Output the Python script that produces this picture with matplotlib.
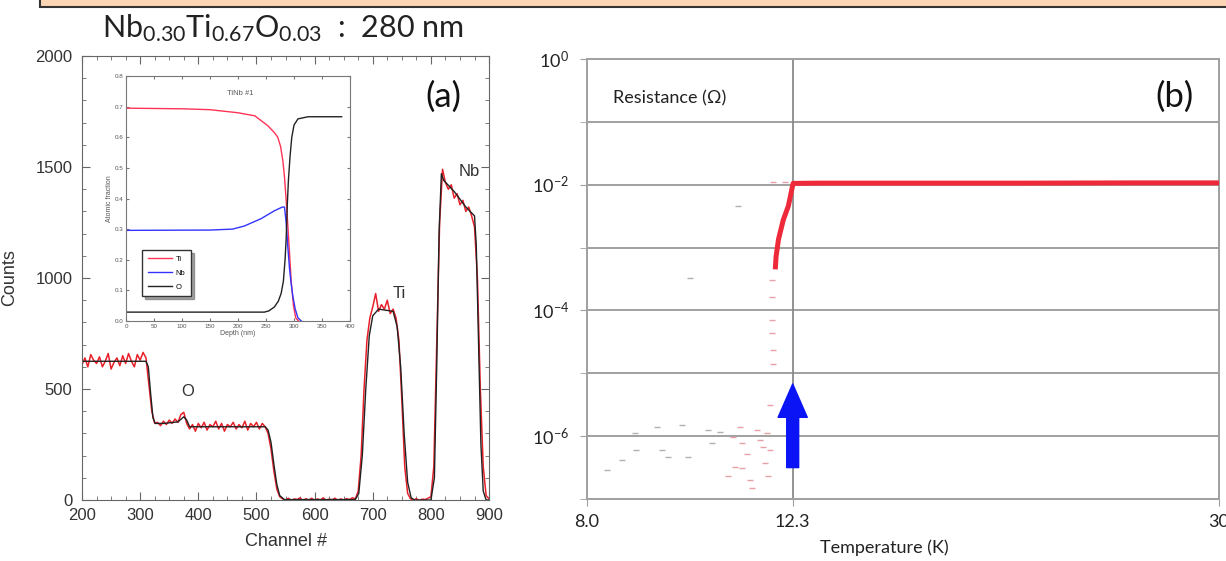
import numpy as np
import matplotlib
matplotlib.use("Agg")
import matplotlib.pyplot as plt
from matplotlib.patches import Rectangle
from matplotlib.ticker import FixedLocator, NullFormatter, NullLocator, MultipleLocator

plt.rcParams['font.family'] = ['Liberation Sans', 'DejaVu Sans']
plt.rcParams['mathtext.fontset'] = 'custom'
plt.rcParams['mathtext.rm'] = 'Lato'
plt.rcParams['mathtext.it'] = 'Lato:italic'
plt.rcParams['mathtext.bf'] = 'Lato:bold'

# ---- (a) RBS spectrum: measured counts, every 5 channels from 200 to 900
channel = np.arange(200, 905, 5)
counts = [610, 640, 600, 655, 630, 615, 645, 600, 625, 660, 590, 620, 640, 605, 650, 615,
          660, 625, 600, 655, 630, 665, 640,
          520, 400, 345,
          350, 335, 355, 340, 360, 345, 365, 350, 385, 395, 345, 320,
          340, 310, 345, 325, 350, 315, 340, 330, 355, 320, 345, 310, 340, 330, 350, 320,
          340, 325, 355, 315, 345, 330, 350, 320, 345, 330,
          300, 230, 130, 50, 15, 5,
          0, 8, -3, 5, 2, 10, -4, 6, 0, 8, -2, 5, 0, 10, -3, 4, 1, 8, -2, 5, 0, 6, 2, 10, 5,
          40, 200, 500, 720, 820, 870, 930, 850, 880, 860, 900, 840, 860, 820,
          720, 450, 150, 30, 5,
          0, 6, -2, 4, 2, 8, 15,
          150, 700, 1250, 1490, 1430, 1400, 1420, 1360, 1380, 1330, 1350, 1300, 1320, 1280, 1230,
          1000, 500, 150, 20, 5]

# simulated fit (black)
fit_ch = [200, 310, 314, 318, 322, 326, 340, 365, 375, 380, 385, 515, 520, 525, 530, 535,
          540, 548, 670, 676, 682, 688, 694, 700, 710, 735, 742, 748, 754, 760, 766, 772,
          800, 806, 810, 814, 818, 822, 840, 860, 875, 878, 882, 886, 890, 895, 900]
fit_counts = [625, 625, 600, 480, 370, 345, 345, 352, 375, 360, 330, 330, 315, 260, 160, 70,
              20, 2, 2, 30, 200, 500, 740, 830, 860, 850, 780, 600, 300, 80, 10, 0,
              0, 100, 600, 1200, 1470, 1440, 1390, 1320, 1280, 1150, 700, 250, 40, 0, 0]

# inset depth profile
ti_depth = [0, 100, 150, 200, 230, 253, 265, 271, 276, 280, 283, 286, 289, 292, 295, 299, 303, 308]
ti_frac = [0.695, 0.693, 0.69, 0.68, 0.67, 0.638, 0.615, 0.60, 0.57, 0.524, 0.47, 0.393,
           0.31, 0.22, 0.13, 0.05, 0.01, 0.0]
nb_depth = [0, 150, 190, 211, 241, 265, 279, 283, 286, 289, 292, 295, 298, 302, 307, 313]
nb_frac = [0.296, 0.297, 0.30, 0.31, 0.334, 0.36, 0.372, 0.372, 0.32, 0.24, 0.17, 0.12,
           0.08, 0.04, 0.01, 0.0]
o_depth = [0, 247, 255, 265, 272, 277, 281, 284, 286, 288, 290, 293, 296, 300, 307, 325, 385]
o_frac = [0.029, 0.029, 0.033, 0.046, 0.065, 0.09, 0.13, 0.2, 0.27, 0.38, 0.46, 0.54, 0.6,
          0.64, 0.66, 0.667, 0.667]

# ---- (b) resistance vs temperature
rt_T = [11.86, 11.88, 11.94, 12.06, 12.19, 12.31, 13.0, 15.0, 20.0, 25.0, 30.0]
rt_R = [4.5e-4, 7.2e-4, 1.35e-3, 2.75e-3, 4.6e-3, 1.05e-2, 1.06e-2, 1.06e-2, 1.06e-2,
        1.07e-2, 1.07e-2]
gray_T = [8.34, 8.60, 8.84, 8.86, 9.26, 9.35, 9.48, 9.75, 9.89, 10.31, 10.38, 10.57, 10.98, 9.92]
gray_logR = [-6.54, -6.38, -5.95, -6.22, -5.85, -6.22, -6.33, -5.82, -6.33, -5.9, -6.11, -5.93,
             -2.34, -3.48]
red_T = [10.86, 11.02, 11.06, 11.17, 10.90, 11.06, 10.75, 11.25, 11.29, 11.41, 11.49, 11.57,
         11.65, 11.61, 11.69, 11.73, 11.77, 11.77, 11.77, 11.78, 11.81, 11.80, 11.73, 11.8, 12.1]
red_logR = [-6.01, -5.85, -6.11, -6.28, -6.49, -6.51, -6.64, -6.7, -6.83, -5.9, -6.06, -6.17,
            -5.95, -6.42, -6.64, -6.22, -3.51, -3.78, -4.15, -4.36, -4.63, -4.85, -5.5,
            -1.96, -1.96]
tc = 12.3

fig = plt.figure(figsize=(12.26, 5.61), dpi=100)

# banner at the top
fig.patches.append(Rectangle((0.033, 0.9875), 1.0, 0.05, transform=fig.transFigure,
                             facecolor='#FCD5B4', edgecolor='#333333', lw=1.5))
fig.text(0.231, 0.95, r'Nb$_{0.30}$Ti$_{0.67}$O$_{0.03}$  :  280 nm', family='Lato',
         fontsize=22, ha='center', va='center', color='#222222')

# ---------------- panel (a)
ax1 = fig.add_axes([0.0669, 0.1087, 0.332, 0.7914])
ax1.plot(channel, counts, color='#e8202a', lw=1.1)
ax1.plot(fit_ch, fit_counts, color='#222222', lw=1.0)
ax1.set_xlim(200, 900)
ax1.set_ylim(0, 2000)
ax1.set_xticks(range(200, 901, 100))
ax1.set_yticks(range(0, 2001, 500))
ax1.xaxis.set_minor_locator(MultipleLocator(25))
ax1.yaxis.set_minor_locator(MultipleLocator(100))
ax1.tick_params(which='both', direction='in', top=True, right=True, colors='#666666',
                labelcolor='#333333', labelsize=12)
ax1.tick_params(which='major', length=6)
ax1.tick_params(which='minor', length=3)
ax1.tick_params(axis='x', pad=6)
ax1.tick_params(axis='y', pad=7)
for s in ax1.spines.values():
    s.set_color('#666666')
ax1.set_xlabel('Channel #', fontsize=13, color='#333333')
ax1.set_ylabel('Counts', fontsize=13, color='#333333')
ax1.xaxis.set_label_coords(0.5, -0.075)
ax1.yaxis.set_label_coords(-0.157, 0.5)
ax1.text(382, 489, 'O', fontsize=12, ha='center', va='center', color='#333333')
ax1.text(745, 930, 'Ti', fontsize=12, ha='center', va='center', color='#333333')
ax1.text(866, 1480, 'Nb', fontsize=12, ha='center', va='center', color='#333333')
ax1.text(0.889, 0.908, '(a)', transform=ax1.transAxes, family='Lato', fontsize=25,
         ha='center', va='center', color='#111111')

# inset
axi = fig.add_axes([0.1028, 0.4278, 0.1827, 0.4367])
axi.plot(ti_depth, ti_frac, color='#ff3355', lw=1.0, label='Ti')
axi.plot(nb_depth, nb_frac, color='#3333ff', lw=1.0, label='Nb')
axi.plot(o_depth, o_frac, color='#222222', lw=1.0, label='O')
axi.set_xlim(0, 400)
axi.set_ylim(0, 0.8)
axi.set_xticks(range(0, 401, 50))
axi.set_yticks(np.arange(0, 0.81, 0.1))
axi.set_yticklabels(['%.1f' % v for v in np.arange(0, 0.81, 0.1)])
axi.tick_params(direction='in', labelsize=4.5, length=2, colors='#777777',
                labelcolor='#555555', pad=2, top=True, right=True)
for s in axi.spines.values():
    s.set_color('#777777')
axi.set_xlabel('Depth (nm)', fontsize=5, color='#555555', labelpad=1)
axi.set_ylabel('Atomic fraction', fontsize=5, color='#555555', labelpad=1)
axi.text(0.51, 0.93, 'TiNb #1', transform=axi.transAxes, fontsize=5.5, ha='center',
         va='center', color='#555555')
axi.legend(loc='lower left', bbox_to_anchor=(0.055, 0.085), fontsize=5.5, frameon=True,
           fancybox=False, shadow=True, edgecolor='#333333', handlelength=3.2,
           borderpad=0.7, labelspacing=0.9, handletextpad=0.5)

# ---------------- panel (b)
ax2 = fig.add_axes([0.4788, 0.1105, 0.5155, 0.7843])
ax2.set_xscale('log')
ax2.set_yscale('log')
ax2.set_xlim(8, 30)
ax2.set_ylim(1e-7, 1e0)
ax2.axvline(tc, color='#8a8a8a', lw=1.3, zorder=1)
ax2.scatter(gray_T, 10.0 ** np.array(gray_logR), marker='_', s=14, color='#b0b0b0',
            lw=1.0, zorder=2)
ax2.scatter(red_T, 10.0 ** np.array(red_logR), marker='_', s=14, color='#e8a0a8',
            lw=1.0, zorder=2)
ax2.plot(rt_T, rt_R, color='#ee2a3a', lw=3.6, solid_capstyle='butt', zorder=3)
ax2.annotate('', xy=(tc, 10 ** -5.17), xytext=(tc, 10 ** -6.5),
             arrowprops=dict(arrowstyle='simple,head_length=1.2,head_width=1.05,tail_width=0.43',
                             mutation_scale=20, color='#0a14f5', shrinkA=0, shrinkB=0),
             zorder=4)
ax2.xaxis.set_major_locator(FixedLocator([8, tc, 30]))
ax2.xaxis.set_minor_locator(NullLocator())
ax2.set_xticklabels(['8.0', '12.3', '30'])
ax2.yaxis.set_major_locator(FixedLocator([1e-6, 1e-4, 1e-2, 1e0]))
ax2.yaxis.set_minor_locator(FixedLocator([1e-7, 1e-5, 1e-3, 1e-1]))
ax2.yaxis.set_minor_formatter(NullFormatter())
ax2.set_yticklabels([r'$10^{-6}$', r'$10^{-4}$', r'$10^{-2}$', r'$10^{0}$'])
ax2.grid(True, axis='y', which='both', color='#a0a0a0', lw=1.4)
ax2.set_axisbelow(True)
ax2.tick_params(which='both', direction='out', length=5, colors='#a0a0a0',
                labelcolor='#222222', labelsize=13)
ax2.tick_params(axis='y', pad=8)
ax2.tick_params(axis='x', pad=6)
for lbl in ax2.get_xticklabels():
    lbl.set_family('Lato')
for s in ax2.spines.values():
    s.set_color('#a0a0a0')
    s.set_linewidth(1.4)
ax2.set_xlabel('Temperature (K)', family='Lato', fontsize=13, color='#222222')
ax2.xaxis.set_label_coords(0.47, -0.093)
ax2.text(0.041, 0.911, 'Resistance (\u03a9)', transform=ax2.transAxes, family='Lato',
         fontsize=13, ha='left', va='center', color='#222222')
ax2.text(0.93, 0.914, '(b)', transform=ax2.transAxes, family='Lato', fontsize=25,
         ha='center', va='center', color='#111111')

fig.savefig('out.png', dpi=100)
